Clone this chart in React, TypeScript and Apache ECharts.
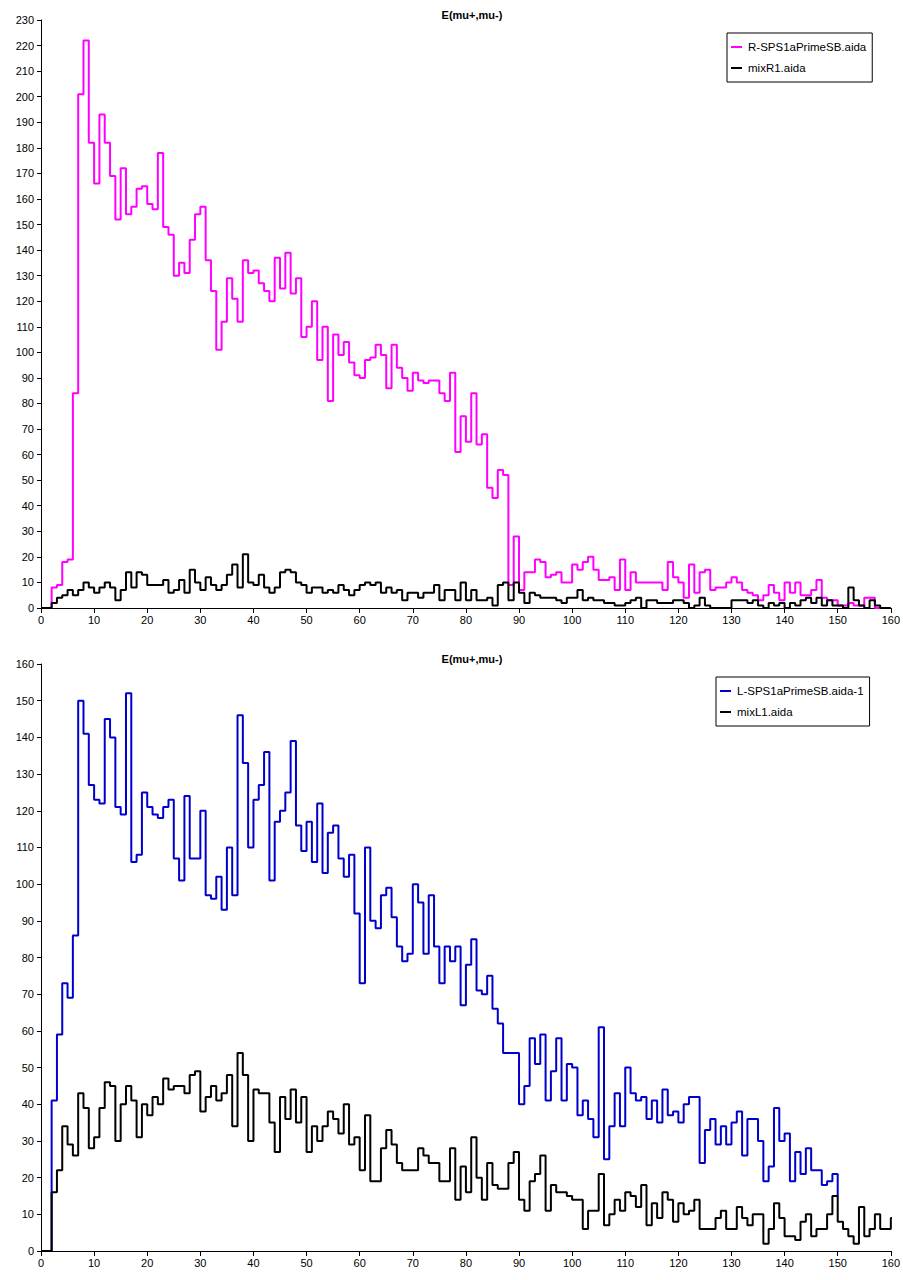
import React, { useEffect, useRef } from "react";
import * as echarts from "echarts";

// bin values (bin i covers [i, i+1))
const xTicks = [0, 160, 10];
const topYAxis = [0, 230, 10];
const bottomYAxis = [0, 160, 10];

const titleText = "E(mu+,mu-)";
const topNames = ["R-SPS1aPrimeSB.aida", "mixR1.aida"];
const bottomNames = ["L-SPS1aPrimeSB.aida-1", "mixL1.aida"];

const pinkR = [
  0, 0, 8, 9, 18, 19, 84, 201, 222, 182,
  166, 193, 182, 169, 152, 172, 154, 157, 164, 165,
  158, 156, 178, 149, 146, 130, 135, 131, 144, 154,
  157, 136, 124, 101, 112, 129, 121, 112, 136, 131,
  132, 127, 124, 120, 137, 125, 139, 123, 129, 106,
  110, 120, 97, 110, 81, 107, 99, 104, 96, 91,
  90, 97, 98, 103, 99, 86, 103, 94, 90, 85,
  92, 89, 88, 89, 89, 84, 81, 92, 61, 75,
  65, 84, 64, 68, 47, 43, 54, 52, 9, 28,
  7, 14, 14, 19, 18, 12, 13, 14, 10, 10,
  17, 15, 18, 20, 15, 11, 11, 12, 7, 19,
  7, 14, 10, 10, 10, 10, 10, 7, 18, 12,
  10, 4, 17, 6, 14, 15, 7, 8, 8, 10,
  12, 10, 7, 6, 5, 3, 5, 9, 6, 3,
  10, 6, 10, 5, 5, 7, 11, 4, 3, 3,
  1, 1, 2, 1, 1, 4, 4, 0,
];

const mixR1 = [
  0, 0, 2, 4, 5, 7, 5, 7, 10, 8,
  6, 8, 10, 8, 3, 7, 14, 8, 14, 13,
  9, 9, 9, 11, 6, 7, 11, 6, 15, 10,
  7, 12, 9, 7, 9, 13, 17, 8, 21, 10,
  9, 13, 8, 6, 8, 14, 15, 14, 10, 9,
  6, 8, 8, 6, 7, 6, 9, 7, 5, 7,
  9, 10, 9, 10, 6, 8, 6, 7, 3, 6,
  6, 4, 6, 6, 9, 3, 7, 7, 3, 10,
  3, 7, 3, 3, 4, 1, 9, 10, 3, 10,
  6, 2, 6, 5, 4, 4, 4, 3, 2, 4,
  4, 7, 3, 4, 3, 3, 2, 2, 1, 1,
  2, 3, 4, 0, 3, 3, 2, 2, 2, 3,
  3, 2, 0, 1, 4, 1, 0, 0, 0, 0,
  3, 3, 3, 2, 3, 1, 0, 2, 1, 2,
  0, 2, 1, 3, 4, 2, 4, 1, 3, 1,
  1, 0, 8, 3, 1, 0, 3, 1, 0, 0,
];

const blueL = [
  0, 0, 41, 59, 73, 69, 86, 150, 141, 127,
  123, 122, 145, 140, 121, 119, 152, 106, 108, 125,
  121, 119, 118, 121, 123, 107, 101, 124, 107, 107,
  120, 97, 96, 102, 93, 110, 97, 146, 133, 110,
  123, 127, 136, 101, 117, 120, 125, 139, 116, 109,
  117, 106, 122, 103, 114, 116, 107, 102, 108, 92,
  73, 110, 90, 88, 97, 99, 91, 83, 79, 81,
  100, 95, 81, 97, 83, 73, 83, 79, 83, 67,
  78, 85, 71, 70, 75, 66, 62, 54, 54, 54,
  40, 45, 58, 51, 59, 41, 49, 58, 41, 51,
  50, 37, 41, 36, 31, 61, 25, 34, 43, 34,
  50, 43, 41, 42, 36, 41, 35, 44, 37, 38,
  35, 40, 42, 42, 24, 33, 36, 29, 34, 29,
  35, 38, 26, 36, 36, 30, 19, 23, 39, 30,
  32, 19, 27, 21, 28, 22, 22, 18, 19, 21,
];
// level the blue histogram's last edge falls to (where it meets mixL1)
const blueEndLevel = 15;

const mixL1 = [
  0, 0, 16, 22, 34, 29, 26, 43, 39, 28,
  31, 39, 46, 45, 30, 40, 45, 41, 31, 40,
  37, 42, 40, 47, 44, 45, 45, 43, 48, 49,
  38, 42, 45, 41, 43, 48, 34, 54, 48, 30,
  44, 43, 43, 35, 27, 42, 36, 44, 35, 42,
  27, 34, 30, 34, 38, 36, 32, 40, 29, 31,
  22, 37, 19, 19, 28, 33, 29, 24, 22, 22,
  22, 28, 26, 24, 24, 19, 19, 28, 14, 23,
  16, 31, 20, 14, 24, 18, 17, 17, 24, 27,
  14, 11, 19, 21, 26, 11, 18, 16, 16, 15,
  14, 14, 6, 11, 11, 21, 7, 10, 14, 11,
  16, 15, 12, 18, 7, 13, 9, 16, 14, 8,
  13, 10, 11, 14, 6, 6, 6, 9, 11, 6,
  6, 12, 9, 7, 10, 10, 2, 6, 13, 9,
  4, 4, 3, 8, 10, 4, 6, 6, 10, 15,
  8, 6, 4, 2, 12, 4, 6, 10, 6, 6,
  9,
];

function steps(vals: number[], endLevel: number | null): number[][] {
  const pts: number[][] = [];
  vals.forEach((v, i) => {
    pts.push([i, v]);
    pts.push([i + 1, v]);
  });
  if (endLevel !== null) pts.push([vals.length, endLevel]);
  return pts;
}

const FONT = "'Liberation Sans', Arial, sans-serif";

function makeXAxis(gridIndex: number) {
  return {
    type: "value",
    gridIndex,
    min: xTicks[0],
    max: xTicks[1],
    interval: xTicks[2],
    splitLine: { show: false },
    axisLine: { show: true, onZero: false, lineStyle: { color: "#000", width: 1 } },
    axisTick: { show: true, inside: false, length: 5, lineStyle: { color: "#000" } },
    axisLabel: { color: "#000", fontSize: 11, fontFamily: FONT, margin: 6 },
  };
}

function makeYAxis(gridIndex: number, cfg: number[]) {
  return {
    type: "value",
    gridIndex,
    min: cfg[0],
    max: cfg[1],
    interval: cfg[2],
    splitLine: { show: false },
    axisLine: { show: true, lineStyle: { color: "#000", width: 1 } },
    axisTick: { show: true, inside: false, length: 4, lineStyle: { color: "#000" } },
    axisLabel: { color: "#000", fontSize: 11, fontFamily: FONT, margin: 7 },
  };
}

function makeLegend(names: string[], left: number, top: number) {
  return {
    data: names,
    orient: "vertical",
    left,
    top,
    icon: "rect",
    itemWidth: 11,
    itemHeight: 2,
    itemGap: 9,
    padding: [8, 6, 8, 4],
    borderColor: "#000",
    borderWidth: 1,
    backgroundColor: "#fff",
    textStyle: { color: "#000", fontSize: 11.5, fontFamily: FONT, padding: [0, 0, 0, 1] },
  };
}

function lineSeries(name: string, color: string, data: number[][], idx: number) {
  return {
    name,
    type: "line",
    xAxisIndex: idx,
    yAxisIndex: idx,
    data,
    symbol: "none",
    showSymbol: false,
    clip: true,
    lineStyle: { color, width: 2 },
    itemStyle: { color },
  };
}

export default function App() {
  const ref = useRef<HTMLDivElement>(null);
  useEffect(() => {
    if (!ref.current) return;
    const chart = echarts.init(ref.current, undefined, { renderer: "svg" });
    chart.setOption({
      animation: false,
      backgroundColor: "#fff",
      title: [
        {
          text: titleText,
          left: 467,
          top: 4,
          textAlign: "center",
          textStyle: { fontSize: 11, fontWeight: "bold", color: "#000", fontFamily: FONT },
        },
        {
          text: titleText,
          left: 467,
          top: 648,
          textAlign: "center",
          textStyle: { fontSize: 11, fontWeight: "bold", color: "#000", fontFamily: FONT },
        },
      ],
      legend: [makeLegend(topNames, 727, 33), makeLegend(bottomNames, 716, 677)],
      grid: [
        { left: 41, top: 20, width: 853, height: 588 },
        { left: 41, top: 664, width: 853, height: 587 },
      ],
      xAxis: [makeXAxis(0), makeXAxis(1)],
      yAxis: [makeYAxis(0, topYAxis), makeYAxis(1, bottomYAxis)],
      series: [
        lineSeries(topNames[0], "#ff00ff", steps(pinkR, 0), 0),
        lineSeries(topNames[1], "#000000", steps(mixR1, null), 0),
        lineSeries(bottomNames[0], "#0000cc", steps(blueL, blueEndLevel), 1),
        lineSeries(bottomNames[1], "#000000", steps(mixL1, null), 1),
      ],
    });
    return () => chart.dispose();
  }, []);
  return (
    <div
      ref={ref}
      style={{ position: "absolute", left: 0, top: 0, width: 903, height: 1280, background: "#fff" }}
    />
  );
}
